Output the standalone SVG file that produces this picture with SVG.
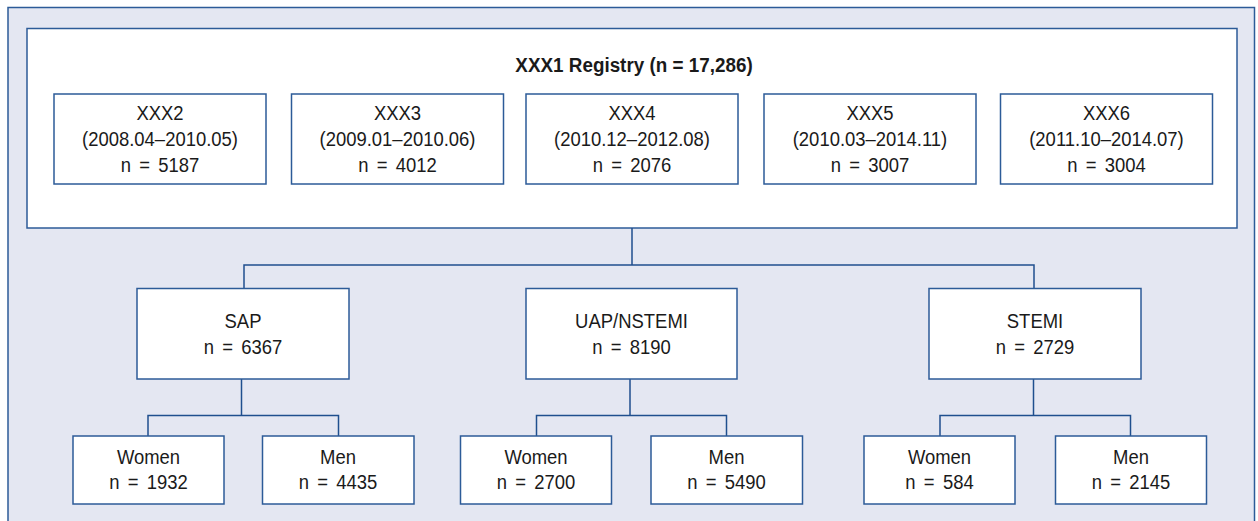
<svg xmlns="http://www.w3.org/2000/svg" width="1258" height="521" viewBox="0 0 1258 521">
<style>
.bg{fill:#e4e7f2;stroke:#2c5b98;stroke-width:1.5}
.box{fill:#ffffff;stroke:#2c5b98;stroke-width:1.5}
.ln{fill:none;stroke:#1f4f8e;stroke-width:1.5}
text{font-family:"Liberation Sans",Arial,sans-serif;font-size:20.5px;fill:#1a1a1a;text-anchor:middle;word-spacing:3.5px}
.b{font-weight:bold;word-spacing:0}
</style>
<rect width="1258" height="521" fill="#ffffff"/>
<rect class="bg" x="8" y="7.5" width="1246.5" height="530"/>
<g id="registry">
<rect class="box" x="27" y="28.5" width="1210" height="199.5"/>
<g transform="translate(634,0) scale(0.92,1)"><text class="b" x="0" y="72">XXX1 Registry (n = 17,286)</text></g>
</g>
<g id="xxx2"><rect class="box" x="54" y="94" width="212" height="90"/>
<g transform="translate(160,0) scale(0.9,1)"><text x="0" y="120">XXX2</text><text x="0" y="146">(2008.04–2010.05)</text><text x="0" y="172">n = 5187</text></g></g>
<g id="xxx3"><rect class="box" x="291.5" y="94" width="212" height="90"/>
<g transform="translate(397.5,0) scale(0.9,1)"><text x="0" y="120">XXX3</text><text x="0" y="146">(2009.01–2010.06)</text><text x="0" y="172">n = 4012</text></g></g>
<g id="xxx4"><rect class="box" x="526" y="94" width="212" height="90"/>
<g transform="translate(632,0) scale(0.9,1)"><text x="0" y="120">XXX4</text><text x="0" y="146">(2010.12–2012.08)</text><text x="0" y="172">n = 2076</text></g></g>
<g id="xxx5"><rect class="box" x="764" y="94" width="212" height="90"/>
<g transform="translate(870,0) scale(0.9,1)"><text x="0" y="120">XXX5</text><text x="0" y="146">(2010.03–2014.11)</text><text x="0" y="172">n = 3007</text></g></g>
<g id="xxx6"><rect class="box" x="1000.5" y="94" width="212" height="90"/>
<g transform="translate(1106.5,0) scale(0.9,1)"><text x="0" y="120">XXX6</text><text x="0" y="146">(2011.10–2014.07)</text><text x="0" y="172">n = 3004</text></g></g>
<g id="connectors">
<path class="ln" d="M632,228 V265 M244,288 V265 H1034 V288"/>
<path class="ln" d="M241.5,379 V415.5 M148,436 V415.5 H338.5 V436"/>
<path class="ln" d="M630,379 V415.5 M536.5,436 V415.5 H726.5 V436"/>
<path class="ln" d="M1033.5,379 V415.5 M940,436 V415.5 H1130.5 V436"/>
</g>
<g id="sap"><rect class="box" x="137" y="288.5" width="212" height="90.5"/>
<g transform="translate(243,0) scale(0.9,1)"><text x="0" y="328">SAP</text><text x="0" y="354">n = 6367</text></g></g>
<g id="uap"><rect class="box" x="526" y="288.5" width="211" height="90.5"/>
<g transform="translate(631.5,0) scale(0.9,1)"><text x="0" y="328">UAP/NSTEMI</text><text x="0" y="354">n = 8190</text></g></g>
<g id="stemi"><rect class="box" x="929" y="288.5" width="212" height="90.5"/>
<g transform="translate(1035,0) scale(0.9,1)"><text x="0" y="328">STEMI</text><text x="0" y="354">n = 2729</text></g></g>
<g id="sap-women"><rect class="box" x="73" y="436" width="151" height="68"/>
<g transform="translate(148.5,0) scale(0.9,1)"><text x="0" y="464">Women</text><text x="0" y="489">n = 1932</text></g></g>
<g id="sap-men"><rect class="box" x="262.5" y="436" width="151.5" height="68"/>
<g transform="translate(338,0) scale(0.9,1)"><text x="0" y="464">Men</text><text x="0" y="489">n = 4435</text></g></g>
<g id="uap-women"><rect class="box" x="460.5" y="436" width="151" height="68"/>
<g transform="translate(536,0) scale(0.9,1)"><text x="0" y="464">Women</text><text x="0" y="489">n = 2700</text></g></g>
<g id="uap-men"><rect class="box" x="651" y="436" width="151.5" height="68"/>
<g transform="translate(726.5,0) scale(0.9,1)"><text x="0" y="464">Men</text><text x="0" y="489">n = 5490</text></g></g>
<g id="stemi-women"><rect class="box" x="864" y="436" width="151" height="68"/>
<g transform="translate(939.5,0) scale(0.9,1)"><text x="0" y="464">Women</text><text x="0" y="489">n = 584</text></g></g>
<g id="stemi-men"><rect class="box" x="1055.5" y="436" width="151" height="68"/>
<g transform="translate(1131,0) scale(0.9,1)"><text x="0" y="464">Men</text><text x="0" y="489">n = 2145</text></g></g>
</svg>
